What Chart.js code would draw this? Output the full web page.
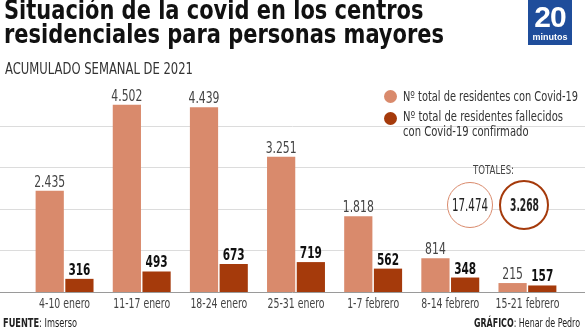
<!DOCTYPE html>
<html lang="es">
<head>
<meta charset="utf-8">
<script src="https://cdn.jsdelivr.net/npm/chart.js@4/dist/chart.umd.min.js"></script>
<style>
  body { margin: 0; background: #fff; }
  #wrap { position: relative; width: 585px; height: 329px; overflow: hidden; font-family: "DejaVu Sans Condensed", "Liberation Sans", sans-serif; color: #222; }
  canvas { position: absolute; left: 0; top: 0; }
  .abs { position: absolute; white-space: nowrap; transform-origin: 0 0; }
  #title { left: 4px; top: -2px; font-size: 27px; font-weight: bold; line-height: 24px; color: #111; }
  #subtitle { left: 5px; top: 60px; font-size: 15px; color: #333; }
  #logo { left: 528px; top: 0; width: 44px; height: 45px; background: #1f4d9b; color: #fff; text-align: center; font-family: "Liberation Sans", sans-serif; font-weight: bold; }
  #logo .n { position: absolute; left: 0; right: 0; top: 2px; font-size: 30px; line-height: 30px; letter-spacing: -1px; }
  #logo .m { position: absolute; left: 0; right: 0; top: 32px; font-size: 9px; line-height: 10px; }
  .dot { position: absolute; width: 13px; height: 13px; border-radius: 50%; }
  .leg { font-size: 13.5px; line-height: 15px; color: #333; }
  #totales { left: 473px; top: 162px; font-size: 13px; color: #444; }
  .circ { position: absolute; border-radius: 50%; background: #fff; box-sizing: border-box; }
  .circ span { position: absolute; top: 50%; margin-top: -10px; line-height: 20px; font-size: 17.5px; white-space: nowrap; transform-origin: 0 0; }
  .foot { font-size: 12.5px; color: #222; top: 315px; }
</style>
</head>
<body>
<div id="wrap">
  <canvas id="chart" width="585" height="329"></canvas>
  <div id="title" class="abs">Situación de la covid en los centros<br>residenciales para personas mayores</div>
  <div id="subtitle" class="abs">ACUMULADO SEMANAL DE 2021</div>
  <div id="logo" class="abs"><div class="n">20</div><div class="m">minutos</div></div>

  <div class="dot" id="dot1" style="left:384px; top:90px;"></div>
  <div class="abs leg" id="leg1" style="left:403px; top:89px;">Nº total de residentes con Covid-19</div>
  <div class="dot" id="dot2" style="left:384px; top:112px;"></div>
  <div class="abs leg" id="leg2" style="left:403px; top:109px;">Nº total de residentes fallecidos<br>con Covid-19 confirmado</div>

  <div id="totales" class="abs">TOTALES:</div>
  <div class="circ" id="circ1" style="left:447px; top:182px; width:46px; height:46px;"><span id="tot1"></span></div>
  <div class="circ" id="circ2" style="left:499px; top:180px; width:50px; height:50px;"><span id="tot2" style="font-weight:bold;"></span></div>

  <div class="abs foot" id="fuente" style="left:3px;"><b>FUENTE</b>: Imserso</div>
  <div class="abs foot" id="grafico" style="left:474px;"><b>GRÁFICO</b>: Henar de Pedro</div>
</div>
<script>
const semanas = ['4-10 enero', '11-17 enero', '18-24 enero', '25-31 enero', '1-7 febrero', '8-14 febrero', '15-21 febrero'];
const residentesCovid = [2435, 4502, 4439, 3251, 1818, 814, 215];
const fallecidosCovid = [316, 493, 673, 719, 562, 348, 157];
const gridValues = [0, 1000, 2000, 3000, 4000];

const colorClaro = '#d98a6c';
const colorOscuro = '#a53a0b';
const fontFam = '"DejaVu Sans Condensed", "Liberation Sans", sans-serif';

// miles con punto, como en el original
const fmt = v => String(v).replace(/\B(?=(\d{3})+(?!\d))/g, '.');
const sum = arr => arr.reduce((a, b) => a + b, 0);

// la fuente original es muy estrecha: se comprime en horizontal
function squeeze(el, target) {
  const w = el.getBoundingClientRect().width;
  el.style.transform = 'scaleX(' + (target / w) + ')';
}

document.getElementById('dot1').style.background = colorClaro;
document.getElementById('dot2').style.background = colorOscuro;
document.getElementById('circ1').style.border = '1.5px solid ' + colorClaro;
document.getElementById('circ2').style.border = '2px solid ' + colorOscuro;

const tot1 = document.getElementById('tot1');
const tot2 = document.getElementById('tot2');
tot1.textContent = fmt(sum(residentesCovid));
tot2.textContent = fmt(sum(fallecidosCovid));
squeeze(tot1, 36); tot1.style.left = ((46 - 36) / 2 - 1.5) + 'px';
squeeze(tot2, 29); tot2.style.left = ((50 - 29) / 2 - 2) + 'px';

squeeze(document.getElementById('title'), 440);
squeeze(document.getElementById('subtitle'), 188);
squeeze(document.getElementById('leg1'), 175);
squeeze(document.getElementById('leg2'), 160);
squeeze(document.getElementById('totales'), 41);
squeeze(document.getElementById('fuente'), 74);
squeeze(document.getElementById('grafico'), 106);

// lineas de fondo a todo el ancho
const fullGrid = {
  id: 'fullGrid',
  beforeDatasetsDraw(chart) {
    const { ctx, scales: { y } } = chart;
    ctx.save();
    gridValues.forEach(v => {
      const p = Math.round(y.getPixelForValue(v)) + 0.5;
      ctx.strokeStyle = v === 0 ? '#9a9a9a' : '#dcdcdc';
      ctx.lineWidth = 1;
      ctx.beginPath();
      ctx.moveTo(0, p);
      ctx.lineTo(chart.width, p);
      ctx.stroke();
    });
    ctx.restore();
  }
};

// texto estrecho en el canvas
function narrowText(ctx, text, x, y, sx) {
  ctx.save();
  ctx.translate(x, y);
  ctx.scale(sx, 1);
  ctx.fillText(text, 0, 0);
  ctx.restore();
}

const labelsPlugin = {
  id: 'labelsPlugin',
  afterDatasetsDraw(chart) {
    const { ctx, scales: { x } } = chart;
    ctx.save();
    ctx.textAlign = 'center';
    ctx.textBaseline = 'alphabetic';

    // valores encima de cada barra
    chart.data.datasets.forEach((ds, i) => {
      const meta = chart.getDatasetMeta(i);
      ctx.font = (i === 1 ? 'bold ' : '') + '15px ' + fontFam;
      ctx.fillStyle = i === 1 ? '#111' : '#444';
      const sx = (i === 1 ? 22 : 31) / ctx.measureText(i === 1 ? '493' : '4.502').width;
      meta.data.forEach((bar, j) => {
        narrowText(ctx, fmt(ds.data[j]), bar.x, bar.y - 4, sx);
      });
    });

    // etiquetas del eje x
    ctx.font = '13.5px ' + fontFam;
    ctx.fillStyle = '#444';
    const sx = 51 / ctx.measureText('4-10 enero').width;
    chart.data.labels.forEach((lab, i) => {
      narrowText(ctx, lab, x.getPixelForValue(i), x.top + 16, sx);
    });
    ctx.restore();
  }
};

new Chart(document.getElementById('chart'), {
  type: 'bar',
  data: {
    labels: semanas,
    datasets: [
      {
        label: 'Nº total de residentes con Covid-19',
        data: residentesCovid,
        backgroundColor: colorClaro
      },
      {
        label: 'Nº total de residentes fallecidos con Covid-19 confirmado',
        data: fallecidosCovid,
        backgroundColor: colorOscuro
      }
    ]
  },
  options: {
    responsive: false,
    animation: false,
    devicePixelRatio: 1,
    categoryPercentage: 0.77,
    barPercentage: 0.95,
    layout: { padding: { top: 84, left: 26, right: 19, bottom: 0 } },
    plugins: {
      legend: { display: false },
      tooltip: { enabled: false }
    },
    scales: {
      x: {
        grid: { display: false },
        border: { display: false },
        ticks: { display: false },
        afterFit: s => { s.height = 37; }
      },
      y: {
        display: false,
        min: 0,
        max: 5000,
        ticks: { stepSize: 1000 }
      }
    }
  },
  plugins: [fullGrid, labelsPlugin]
});
</script>
</body>
</html>
